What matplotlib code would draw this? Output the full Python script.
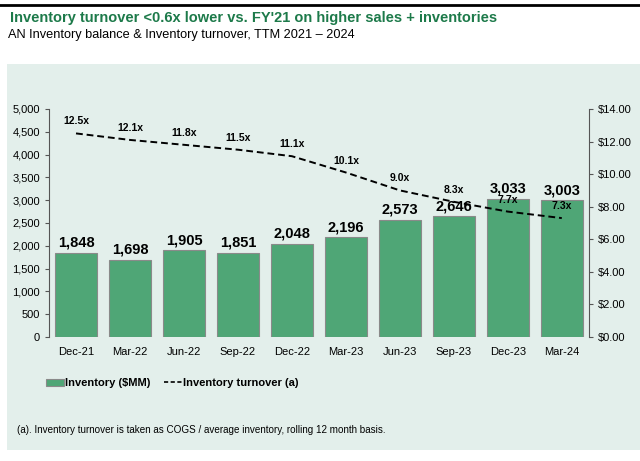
import matplotlib.pyplot as plt
from matplotlib.patches import Rectangle
from matplotlib.lines import Line2D
from matplotlib.ticker import FuncFormatter

plt.rcParams["font.family"] = ["Liberation Sans", "DejaVu Sans"]

# data
quarters = ["Dec-21", "Mar-22", "Jun-22", "Sep-22", "Dec-22",
            "Mar-23", "Jun-23", "Sep-23", "Dec-23", "Mar-24"]
inventory = [1848, 1698, 1905, 1851, 2048, 2196, 2573, 2646, 3033, 3003]
turnover = [12.5, 12.1, 11.8, 11.5, 11.1, 10.1, 9.0, 8.3, 7.7, 7.3]

green_title = "#1d7a4a"
bar_green = "#4fa676"
panel_bg = "#e3efeb"

fig = plt.figure(figsize=(6.4, 4.61), dpi=100)

# background panel + top rule
fig.patches.append(Rectangle((0.011, 0.024), 0.989, 0.837, transform=fig.transFigure,
                             facecolor=panel_bg, edgecolor="none", zorder=-5))
fig.add_artist(Line2D([0, 1], [0.990, 0.990], color="black", lw=2, transform=fig.transFigure))

fig.text(0.015, 0.962, "Inventory turnover <0.6x lower vs. FY'21 on higher sales + inventories",
         color=green_title, fontsize=10.5, fontweight="bold", va="center")
fig.text(0.013, 0.923, "AN Inventory balance & Inventory turnover, TTM 2021 \u2013 2024",
         color="black", fontsize=9.2, va="center")

ax = fig.add_axes([0.0766, 0.269, 0.8434, 0.4946])
ax.set_facecolor("none")
x = list(range(len(quarters)))
ax.bar(x, inventory, width=0.78, color=bar_green, edgecolor="#8a8a8a", linewidth=0.8,
       label="Inventory ($MM)")
for xi, v in zip(x, inventory):
    ax.annotate(f"{v:,}", (xi, v), xytext=(0, 2), textcoords="offset points",
                ha="center", va="bottom", fontsize=10.5, fontweight="bold")

ax.set_xlim(-0.5, len(quarters) - 0.5)
ax.set_ylim(0, 5000)
ax.set_yticks(range(0, 5001, 500))
ax.yaxis.set_major_formatter(FuncFormatter(lambda v, p: f"{int(v):,}"))
ax.set_xticks(x)
ax.set_xticklabels(quarters)
ax.tick_params(axis="x", length=0, labelsize=8, pad=7)
ax.tick_params(axis="y", labelsize=8, direction="out", length=3, color="#555555")
for s in ["top", "bottom", "right"]:
    ax.spines[s].set_visible(False)
ax.spines["left"].set_color("#555555")

ax2 = ax.twinx()
ax2.plot(x, turnover, color="black", lw=1.4, linestyle=(0, (3.5, 2)),
         label="Inventory turnover (a)")
for xi, v in zip(x, turnover):
    ax2.annotate(f"{v:.1f}x", (xi, v), xytext=(0, 5), textcoords="offset points",
                 ha="center", va="bottom", fontsize=7.5, fontweight="bold")
ax2.set_ylim(0, 14)
ax2.set_yticks(range(0, 15, 2))
ax2.yaxis.set_major_formatter(FuncFormatter(lambda v, p: f"${v:.2f}"))
ax2.tick_params(axis="y", labelsize=8, direction="out", length=3, color="#555555")
for s in ["top", "bottom", "left"]:
    ax2.spines[s].set_visible(False)
ax2.spines["right"].set_color("#555555")

handles = [Rectangle((0, 0), 1, 1, facecolor=bar_green, edgecolor="#8a8a8a", lw=0.8),
           Line2D([0], [0], color="black", lw=1.2, linestyle=(0, (2.5, 1.5)))]
fig.legend(handles, ["Inventory ($MM)", "Inventory turnover (a)"], ncol=2,
           loc="center left", bbox_to_anchor=(0.057, 0.169), frameon=False,
           handlelength=1.6, handleheight=0.6, handletextpad=0.1, columnspacing=1.2,
           prop={"weight": "bold", "size": 8})

fig.text(0.026, 0.067, "(a). Inventory turnover is taken as COGS / average inventory, rolling 12 month basis.",
         fontsize=7.1, va="center")

fig.savefig("out.png", dpi=100)
